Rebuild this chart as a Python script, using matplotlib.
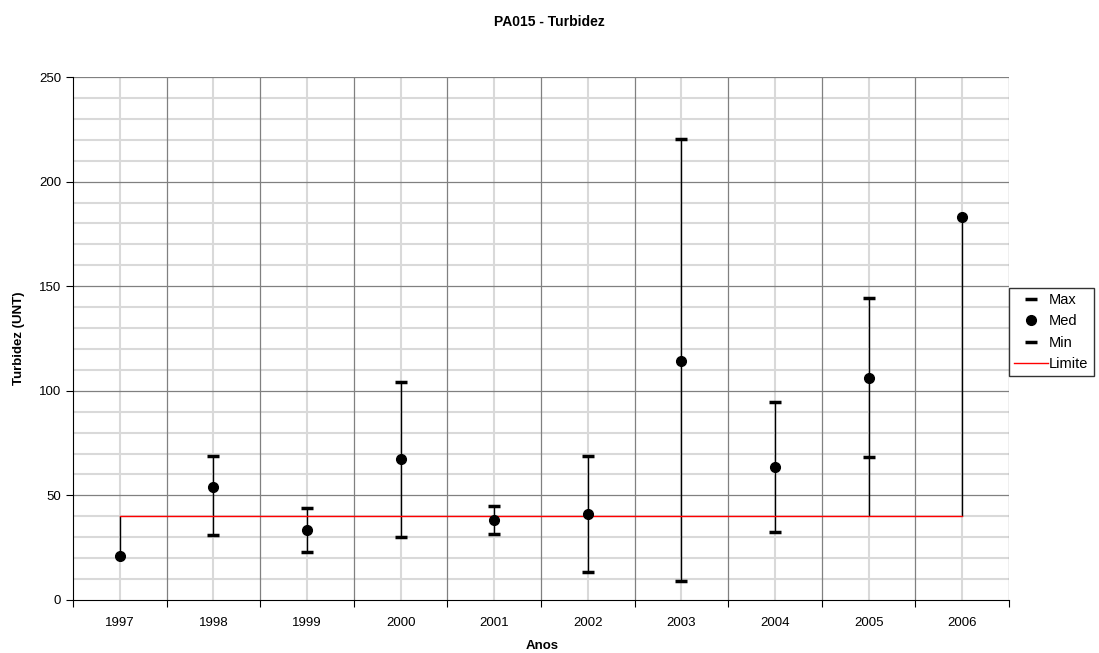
import numpy as np
import matplotlib
matplotlib.use("Agg")
from matplotlib import pyplot as plt
from matplotlib.ticker import MultipleLocator, FixedLocator

plt.rcParams['font.family'] = ['Liberation Sans', 'DejaVu Sans']

anos = ['1997', '1998', '1999', '2000', '2001', '2002', '2003', '2004', '2005', '2006']
vmax = [np.nan, 69, 43.8, 104, 44.9, 68.8, 220.2, 94.6, 144.2, np.nan]
vmed = [21, 54.2, 33.5, 67.3, 38.2, 41.1, 114.4, 63.6, 106.3, 183.2]
vmin = [np.nan, 31, 23.1, 30.3, 31.5, 13.5, 8.9, 32.5, 68.4, np.nan]
limite = [40] * 10

fig = plt.figure(figsize=(10.99, 6.53), dpi=100)
ax = fig.add_axes([73/1099, 53/653, 936/1099, 523/653])

x = np.arange(len(anos))

# grid: minor light, major darker
for v in range(10, 250, 10):
    if v % 50:
        ax.axhline(v, color='#d9d9d9', lw=1.5, zorder=0)
for v in range(50, 251, 50):
    ax.axhline(v, color='#808080', lw=0.9, zorder=0.5)
for xi in x:
    ax.axvline(xi, color='#d9d9d9', lw=1.5, zorder=0)
for xb in np.arange(0.5, 10, 1):
    ax.axvline(xb, color='#808080', lw=0.9, zorder=0.5)

# high-low lines across all series
todos = np.array([vmax, vmed, vmin, limite], dtype=float)
lo = np.nanmin(todos, axis=0)
hi = np.nanmax(todos, axis=0)
ax.vlines(x, lo, hi, color='black', lw=1, zorder=2)

ax.plot(x, limite, color='#ff0000', lw=1, label='Limite', zorder=3)
ax.plot(x, vmax, ls='none', marker='_', ms=9, mew=2.5, color='black', label='Max', zorder=4)
ax.plot(x, vmed, ls='none', marker='o', ms=7, color='black', label='Med', zorder=4)
ax.plot(x, vmin, ls='none', marker='_', ms=9, mew=2.5, color='black', label='Min', zorder=4)

ax.set_xlim(-0.5, 9.5)
ax.set_ylim(0, 250)
ax.yaxis.set_major_locator(MultipleLocator(50))
ax.xaxis.set_major_locator(FixedLocator(np.arange(-0.5, 10, 1)))
ax.set_xticklabels([])
ax.xaxis.set_minor_locator(FixedLocator(x))
ax.set_xticklabels(anos, minor=True)
ax.tick_params(axis='x', which='minor', length=0, pad=12, labelsize=9.5)
ax.tick_params(axis='x', which='major', length=5, direction='out')
ax.tick_params(axis='y', length=5, direction='out', labelsize=9.5)

for s in ['top', 'right']:
    ax.spines[s].set_visible(False)
ax.spines['left'].set_color('black')
ax.spines['bottom'].set_color('black')

ax.set_ylabel('Turbidez (UNT)', fontsize=9.5, fontweight='bold', labelpad=10)
fig.text(0.493, 0.002, 'Anos', ha='center', va='bottom', fontsize=9.5, fontweight='bold')
fig.text(0.5, 1 - 22/653, 'PA015 - Turbidez', ha='center', va='center', fontsize=10, fontweight='bold')

h, l = ax.get_legend_handles_labels()
order = [1, 2, 3, 0]
leg = fig.legend([h[i] for i in order], [l[i] for i in order],
                 loc='upper left', bbox_to_anchor=(1009/1099, 1 - 288/653),
                 fontsize=10.5, frameon=True, fancybox=False, edgecolor='black',
                 handlelength=2.3, handletextpad=0.1, borderpad=0.35, labelspacing=0.5,
                 borderaxespad=0)
leg.get_frame().set_linewidth(1)

fig.savefig('out.png', dpi=100)
